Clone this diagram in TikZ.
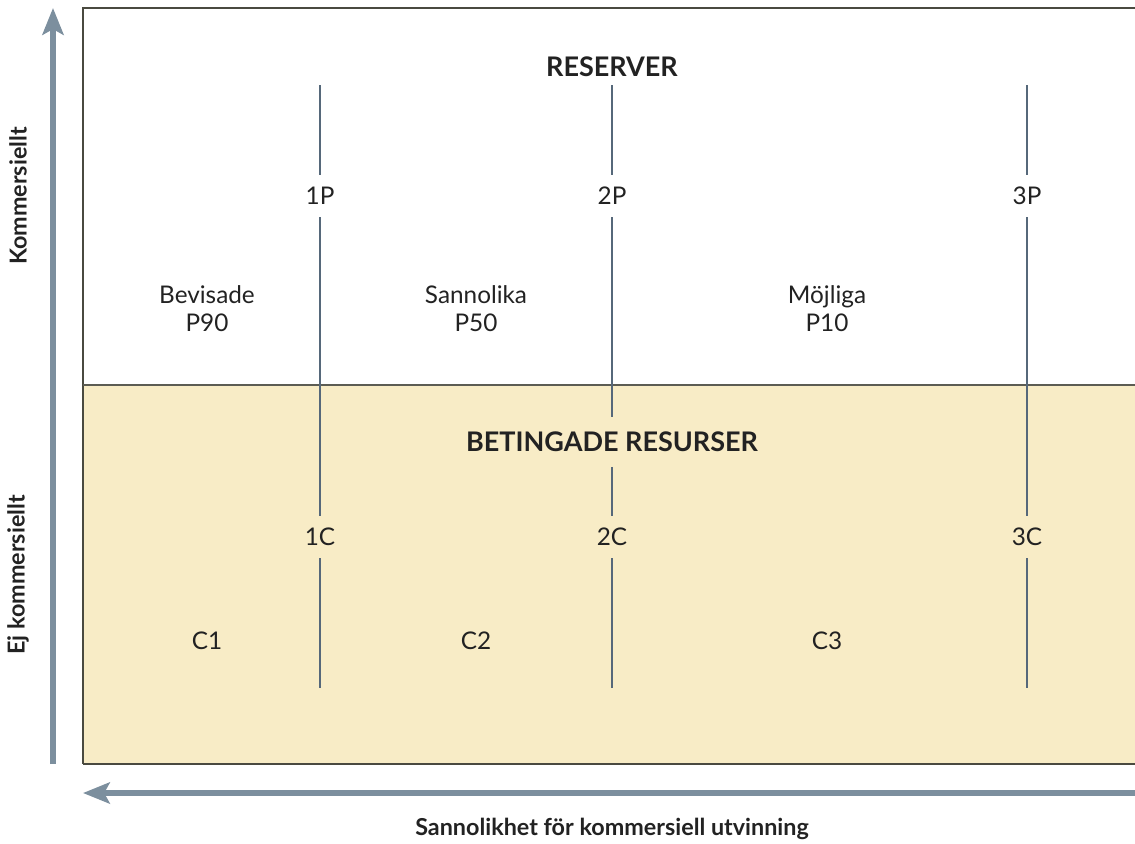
\documentclass[tikz,border=0pt]{standalone}
\usepackage{fontspec}
\setmainfont{Lato}
\usetikzlibrary{arrows.meta}

\definecolor{ejyellow}{HTML}{F8ECC6}
\definecolor{axisgray}{HTML}{7C8F9E}
\definecolor{linegray}{HTML}{56687A}
\definecolor{framegray}{HTML}{4A4A40}
\definecolor{textdark}{HTML}{222222}

\begin{document}
\begin{tikzpicture}[
    x=0.025cm, y=-0.025cm,
    % --- TEXTOS ---
    etiqueta/.style={text=textdark, font=\fontsize{17.3}{20}\selectfont, align=center},
    nivel/.style={etiqueta, minimum height=30pt, inner sep=0pt},
    titulo/.style={text=textdark, font=\fontsize{19.2}{22}\selectfont\bfseries, inner sep=0pt},
    eje/.style={text=textdark, font=\fontsize{16.6}{19}\selectfont\bfseries},
    % --- LINEAS ---
    limite/.style={color=linegray, line width=2pt},
    flechaEje/.style={-{Stealth[length=19pt, width=15pt, inset=4pt]}, color=axisgray, line width=4pt}
]

    \useasboundingbox (0,0) rectangle (1135,843);

    % --- MARCO Y ZONA INFERIOR ---
    \fill[ejyellow] (83,385) rectangle (1135,764);
    \draw[framegray, line width=1.6pt] (1135,8) -- (83,8) -- (83,764);
    \draw[framegray!90, line width=1.5pt] (83,385) -- (1135,385);
    \draw[framegray, line width=2pt] (83,764) -- (1135,764);

    % --- EJES ---
    \coordinate (ejeYini) at (53,764);
    \coordinate (ejeYfin) at (53,8);
    \coordinate (ejeXini) at (1135,793);
    \coordinate (ejeXfin) at (83,793);
    \draw[flechaEje] (ejeYini) -- (ejeYfin);
    \draw[flechaEje] (ejeXini) -- (ejeXfin);

    \node[eje, rotate=90] (kom) at (18,196) {Kommersiellt};
    \node[eje, rotate=90] (ejkom) at (18,575) {Ej kommersiellt};
    \node[eje] (sannolikhet) at (612,829) {Sannolikhet för kommersiell utvinning};

    % --- TITULOS ---
    \node[titulo] (reserver) at (612,67) {RESERVER};
    \node[titulo, minimum height=35pt] (betingade) at (612,442) {BETINGADE RESURSER};

    % --- NIVELES ---
    \node[nivel] (p1) at (320,196) {1P};
    \node[nivel] (p2) at (612,196) {2P};
    \node[nivel] (p3) at (1027,196) {3P};
    \node[nivel] (c1) at (320,537) {1C};
    \node[nivel] (c2) at (612,537) {2C};
    \node[nivel] (c3) at (1027,537) {3C};

    \coordinate (arriba1) at (320,85);
    \coordinate (arriba2) at (612,85);
    \coordinate (arriba3) at (1027,85);
    \coordinate (abajo1) at (320,688);
    \coordinate (abajo2) at (612,688);
    \coordinate (abajo3) at (1027,688);

    \draw[limite] (arriba1) -- (p1) -- (c1) -- (abajo1);
    \draw[limite] (arriba2) -- (p2) -- (betingade) -- (c2) -- (abajo2);
    \draw[limite] (arriba3) -- (p3) -- (c3) -- (abajo3);

    % --- CATEGORIAS ---
    \node[etiqueta] (bevisade) at (207,309) {Bevisade\\P90};
    \node[etiqueta] (sannolika) at (476,309) {Sannolika\\P50};
    \node[etiqueta] (mojliga) at (827,309) {Möjliga\\P10};
    \node[etiqueta] (cat1) at (207,641) {C1};
    \node[etiqueta] (cat2) at (476,641) {C2};
    \node[etiqueta] (cat3) at (827,641) {C3};

\end{tikzpicture}
\end{document}
